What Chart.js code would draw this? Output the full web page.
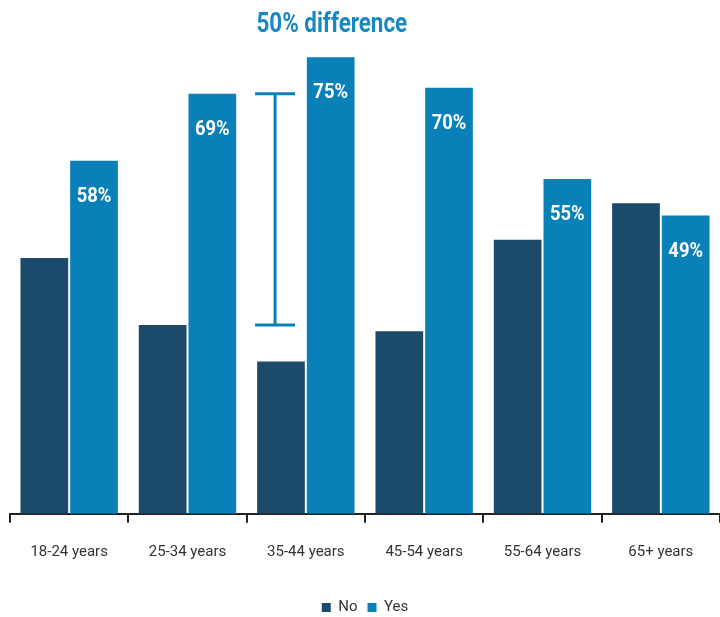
<!DOCTYPE html>
<html>
<head>
<meta charset="utf-8">
<script src="https://cdn.jsdelivr.net/npm/chart.js@4.4.1/dist/chart.umd.min.js"></script>
<style>
  html, body { margin: 0; padding: 0; background: #fff; }
  #wrap { width: 720px; height: 617px; }
</style>
</head>
<body>
<div id="wrap"><canvas id="chart"></canvas></div>
<script>
const categories = ['18-24 years', '25-34 years', '35-44 years', '45-54 years', '55-64 years', '65+ years'];
const noValues = [42, 31, 25, 30, 45, 51];
const yesValues = [58, 69, 75, 70, 55, 49];
const yesLabels = ['58%', '69%', '75%', '70%', '55%', '49%'];
const noColor = '#1b4a6a';
const yesColor = '#0a80b9';
const FONT = '"Roboto", sans-serif';

// white % labels inside the Yes bars + the "50% difference" marker
const annotate = {
  id: 'annotate',
  afterDatasetsDraw(chart) {
    const ctx = chart.ctx;
    const x = chart.scales.x, y = chart.scales.y;
    const meta = chart.getDatasetMeta(1);
    ctx.save();
    ctx.fillStyle = '#fff';
    ctx.font = 'bold 20px ' + FONT;
    ctx.textAlign = 'center';
    ctx.textBaseline = 'middle';
    meta.data.forEach((bar, i) => {
      ctx.save();
      ctx.translate(bar.x, bar.y + 36);
      ctx.scale(0.92, 1);
      ctx.fillText(yesLabels[i], 0, 0);
      ctx.restore();
    });

    // I-beam drawn next to the 35-44 bars
    const catW = x.getPixelForValue(1) - x.getPixelForValue(0);
    const sx = x.getPixelForValue(2) - catW * 0.26;
    const yTop = y.getPixelForValue(69), yBot = y.getPixelForValue(31);
    ctx.strokeStyle = '#0a80b9';
    ctx.lineWidth = 3;
    ctx.beginPath();
    ctx.moveTo(sx, yTop); ctx.lineTo(sx, yBot);
    ctx.moveTo(sx - 20, yTop); ctx.lineTo(sx + 20, yTop);
    ctx.moveTo(sx - 20, yBot); ctx.lineTo(sx + 20, yBot);
    ctx.stroke();

    ctx.fillStyle = '#1a88c0';
    ctx.font = 'bold 27px ' + FONT;
    ctx.translate(x.getPixelForValue(2) + 26, y.getPixelForValue(80.3));
    ctx.scale(0.83, 1);
    ctx.fillText('50% difference', 0, 0);
    ctx.restore();
  }
};

new Chart(document.getElementById('chart'), {
  type: 'bar',
  data: {
    labels: categories,
    datasets: [
      { label: 'No', data: noValues, backgroundColor: noColor, categoryPercentage: 0.84, barPercentage: 0.96 },
      { label: 'Yes', data: yesValues, backgroundColor: yesColor, categoryPercentage: 0.84, barPercentage: 0.96 }
    ]
  },
  options: {
    responsive: true,
    maintainAspectRatio: false,
    animation: false,
    layout: { padding: { left: 10, right: 0, top: 0, bottom: -8 } },
    scales: {
      x: {
        offset: true,
        grid: { display: true, drawOnChartArea: false, offset: true, tickLength: 9, color: '#222', lineWidth: 2 },
        border: { display: true, color: '#222', width: 2 },
        ticks: { color: '#333', font: { family: FONT, size: 15 }, padding: 20 },
        title: { display: true, text: ' ', font: { size: 1 }, padding: { top: 8, bottom: 0 } }
      },
      y: {
        min: 0,
        max: 84.4,
        display: false
      }
    },
    plugins: {
      legend: {
        position: 'bottom',
        labels: { color: '#333', font: { family: FONT, size: 15 }, boxWidth: 9, boxHeight: 9, padding: 10 }
      },
      tooltip: { enabled: false }
    }
  },
  plugins: [annotate]
});
</script>
</body>
</html>
